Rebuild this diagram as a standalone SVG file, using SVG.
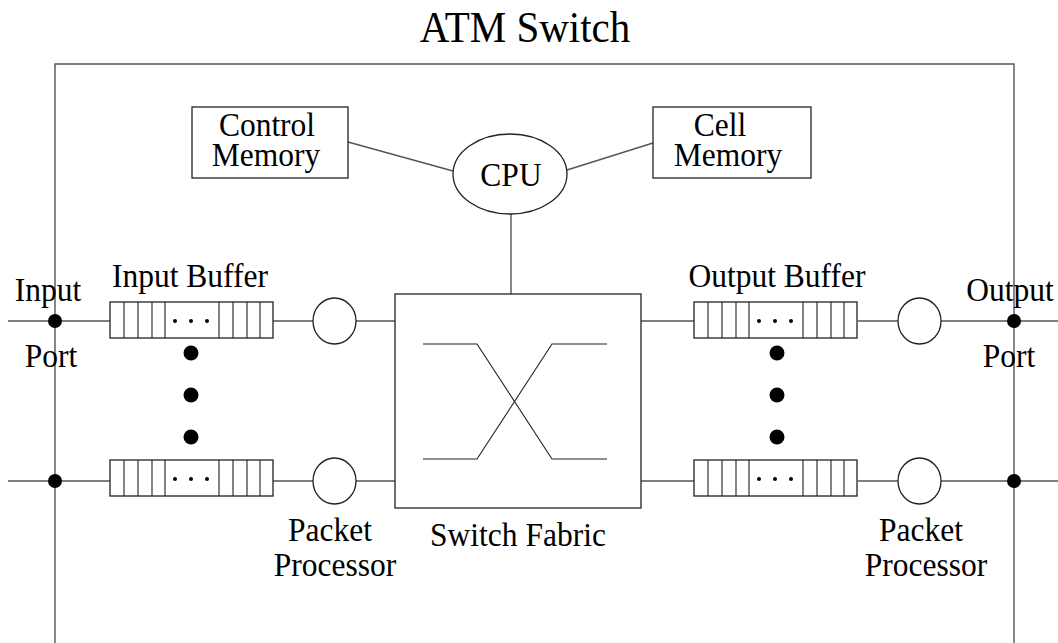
<svg xmlns="http://www.w3.org/2000/svg" width="1058" height="643" viewBox="0 0 1058 643">
<defs>
<style>
text{font-family:"Liberation Serif","Times New Roman",serif;fill:#000;text-anchor:middle}
.lbl{font-size:31.5px}
.title{font-size:41px}
.wire{stroke:#555;stroke-width:1.4;fill:none}
.box{stroke:#222;stroke-width:1.3;fill:#fff}
.cell{stroke:#222;stroke-width:1.1;fill:none}
.dot{fill:#000}
</style>
<g id="buf">
<rect class="box" x="0" y="0" width="163" height="36"/>
<path class="cell" d="M14 0V36M28 0V36M42 0V36M55 0V36M109 0V36M123 0V36M137 0V36M150 0V36"/>
<circle class="dot" cx="65" cy="19" r="2"/>
<circle class="dot" cx="81" cy="19" r="2"/>
<circle class="dot" cx="97" cy="19" r="2"/>
</g>
</defs>
<rect width="1058" height="643" fill="#fff"/>
<text class="title" transform="translate(525 42) scale(1 1.07)">ATM Switch</text>
<g id="frame">
<path class="wire" d="M55 643V64H1014V643"/>
</g>
<g id="connectors">
<path class="wire" d="M8 321H110M273 321H313M356 321H395M641 321H694M858 321H898M941 321H1058"/>
<path class="wire" d="M8 481H110M273 481H313M356 481H395M641 481H694M858 481H898M941 481H1058"/>
<path class="wire" d="M348 142L453 171M567 170L653 143M511 214V294"/>
</g>
<g id="control-memory">
<rect class="box" x="192" y="107" width="156" height="71"/>
<text class="lbl" transform="translate(267 136) scale(1 1.07)">Control</text>
<text class="lbl" transform="translate(266 166) scale(1 1.07)">Memory</text>
</g>
<g id="cell-memory">
<rect class="box" x="653" y="107" width="158" height="71"/>
<text class="lbl" transform="translate(720 136) scale(1 1.07)">Cell</text>
<text class="lbl" transform="translate(728 166) scale(1 1.07)">Memory</text>
</g>
<g id="cpu">
<ellipse class="box" cx="510" cy="174" rx="57" ry="40"/>
<text class="lbl" transform="translate(511 186) scale(1 1.07)">CPU</text>
</g>
<g id="switch-fabric">
<rect class="box" x="395" y="294" width="246" height="214"/>
<path class="cell" d="M423 344H477L552 459H607M423 459H477L552 344H607"/>
<text class="lbl" transform="translate(518 546) scale(1 1.07)">Switch Fabric</text>
</g>
<g id="input-port">
<circle class="dot" cx="55" cy="321" r="7"/>
<circle class="dot" cx="55" cy="481" r="7"/>
<text class="lbl" transform="translate(48 301) scale(1 1.07)">Input</text>
<text class="lbl" transform="translate(51 367) scale(1 1.07)">Port</text>
</g>
<g id="input-buffer">
<text class="lbl" transform="translate(190 287) scale(1 1.07)">Input Buffer</text>
<use href="#buf" x="110" y="302"/>
<use href="#buf" x="110" y="460"/>
<circle class="dot" cx="191" cy="353" r="7.5"/>
<circle class="dot" cx="191" cy="395" r="7.5"/>
<circle class="dot" cx="191" cy="437" r="7.5"/>
</g>
<g id="input-packet-processor">
<ellipse class="box" cx="334.5" cy="321" rx="21.5" ry="23"/>
<ellipse class="box" cx="334.5" cy="481" rx="21.5" ry="23"/>
<text class="lbl" transform="translate(330 541) scale(1 1.07)">Packet</text>
<text class="lbl" transform="translate(335 576) scale(1 1.07)">Processor</text>
</g>
<g id="output-buffer">
<text class="lbl" transform="translate(777 287) scale(1 1.07)">Output Buffer</text>
<use href="#buf" x="694" y="302"/>
<use href="#buf" x="694" y="460"/>
<circle class="dot" cx="777" cy="353" r="7.5"/>
<circle class="dot" cx="777" cy="395" r="7.5"/>
<circle class="dot" cx="777" cy="437" r="7.5"/>
</g>
<g id="output-packet-processor">
<ellipse class="box" cx="919.5" cy="321" rx="21.5" ry="23"/>
<ellipse class="box" cx="919.5" cy="481" rx="21.5" ry="23"/>
<text class="lbl" transform="translate(921 541) scale(1 1.07)">Packet</text>
<text class="lbl" transform="translate(926 576) scale(1 1.07)">Processor</text>
</g>
<g id="output-port">
<circle class="dot" cx="1014" cy="321" r="7"/>
<circle class="dot" cx="1014" cy="481" r="7"/>
<text class="lbl" transform="translate(1010 301) scale(1 1.07)">Output</text>
<text class="lbl" transform="translate(1009 367) scale(1 1.07)">Port</text>
</g>
</svg>
